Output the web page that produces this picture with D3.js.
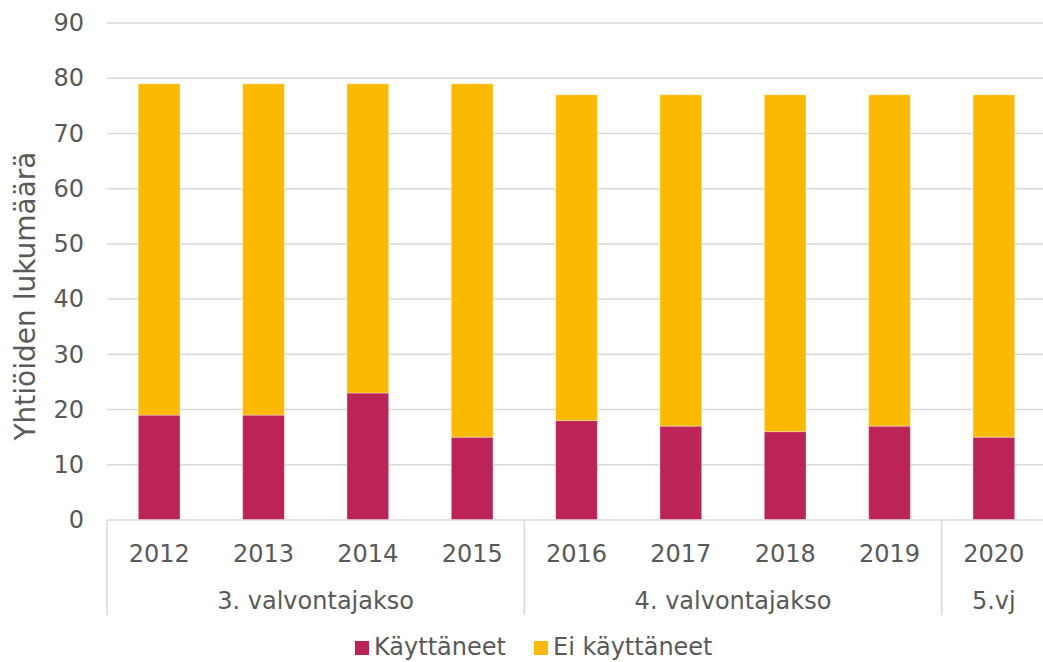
<!DOCTYPE html>
<html>
<head>
<meta charset="utf-8">
<script src="https://cdn.jsdelivr.net/npm/d3@7"></script>
<style>
  body { margin: 0; background: #fff; }
  text { font-family: "DejaVu Sans", Verdana, sans-serif; fill: #595959; }
</style>
</head>
<body>
<svg width="1043" height="662"></svg>
<script>
const years = ['2012', '2013', '2014', '2015', '2016', '2017', '2018', '2019', '2020']
const kayttaneet = [19, 19, 23, 15, 18, 17, 16, 17, 15]
const eiKayttaneet = [60, 60, 56, 64, 59, 60, 61, 60, 62]
const periods = [
  { name: '3. valvontajakso', from: 0, to: 3 },
  { name: '4. valvontajakso', from: 4, to: 7 },
  { name: '5.vj', from: 8, to: 8 }
]
const yTicks = [0, 10, 20, 30, 40, 50, 60, 70, 80, 90]
const seriesNames = ['Käyttäneet', 'Ei käyttäneet']
const colors = ['#BC2356', '#FBBA00']

const svg = d3.select('svg')
const plotLeft = 107, plotRight = 1046, plotTop = 23, plotBottom = 520
const fontSize = '24px'

const x = d3.scaleBand().domain(years).range([plotLeft, plotRight]).paddingInner(0.6).paddingOuter(0.3)
const y = d3.scaleLinear().domain([0, 90]).range([plotBottom, plotTop])

// gridlines
svg.append('g').selectAll('line').data(yTicks.filter(d => d > 0)).join('line')
  .attr('x1', plotLeft).attr('x2', plotRight)
  .attr('y1', d => y(d)).attr('y2', d => y(d))
  .attr('stroke', '#d9d9d9').attr('stroke-width', 1.5)

// y axis labels
const yAxis = d3.axisLeft(y).tickValues(yTicks).tickSize(0).tickPadding(23)
const gy = svg.append('g').attr('transform', `translate(${plotLeft},0)`).call(yAxis)
gy.select('.domain').remove()
gy.selectAll('text').style('font-size', fontSize).attr('fill', '#595959')
  .style('font-family', '"DejaVu Sans", Verdana, sans-serif')

// stacked bars
const rows = years.map((yr, i) => ({ year: yr, k: kayttaneet[i], e: eiKayttaneet[i] }))
const stack = d3.stack().keys(['k', 'e'])(rows)
svg.append('g').selectAll('g').data(stack).join('g')
  .attr('fill', (d, i) => colors[i])
  .selectAll('rect').data(d => d).join('rect')
  .attr('x', d => x(d.data.year))
  .attr('width', x.bandwidth())
  .attr('y', d => y(d[1]))
  .attr('height', d => y(d[0]) - y(d[1]))
  .attr('stroke', '#fff').attr('stroke-opacity', 0.35).attr('stroke-width', 1)

// x axis line
const step = x.step()
svg.append('line').attr('x1', plotLeft).attr('x2', plotRight).attr('y1', plotBottom).attr('y2', plotBottom)
  .attr('stroke', '#d9d9d9').attr('stroke-width', 1.5)

// year labels
svg.append('g').selectAll('text').data(years).join('text')
  .attr('x', d => x(d) + x.bandwidth() / 2)
  .attr('y', 562)
  .attr('text-anchor', 'middle')
  .style('font-size', fontSize)
  .text(d => d)

// period separators
const sepX = [plotLeft].concat(periods.map(p => plotLeft + (p.to + 1) * step))
svg.append('g').selectAll('line').data(sepX).join('line')
  .attr('x1', d => d).attr('x2', d => d)
  .attr('y1', plotBottom).attr('y2', 615)
  .attr('stroke', '#d9d9d9').attr('stroke-width', 1.5)

// period labels
svg.append('g').selectAll('text').data(periods).join('text')
  .attr('x', p => plotLeft + (p.from + p.to + 1) / 2 * step)
  .attr('y', 609)
  .attr('text-anchor', 'middle')
  .style('font-size', fontSize)
  .text(p => p.name)

// y title
svg.append('text')
  .attr('transform', 'translate(35,296) rotate(-90)')
  .attr('text-anchor', 'middle')
  .style('font-size', '28px')
  .text('Yhtiöiden lukumäärä')

// legend
const legend = svg.append('g')
const legX = [355, 534]
seriesNames.forEach((name, i) => {
  legend.append('rect').attr('x', legX[i]).attr('y', 641).attr('width', 14).attr('height', 14).attr('fill', colors[i])
  legend.append('text').attr('x', legX[i] + 19).attr('y', 655).style('font-size', fontSize).text(name)
})
</script>
</body>
</html>
